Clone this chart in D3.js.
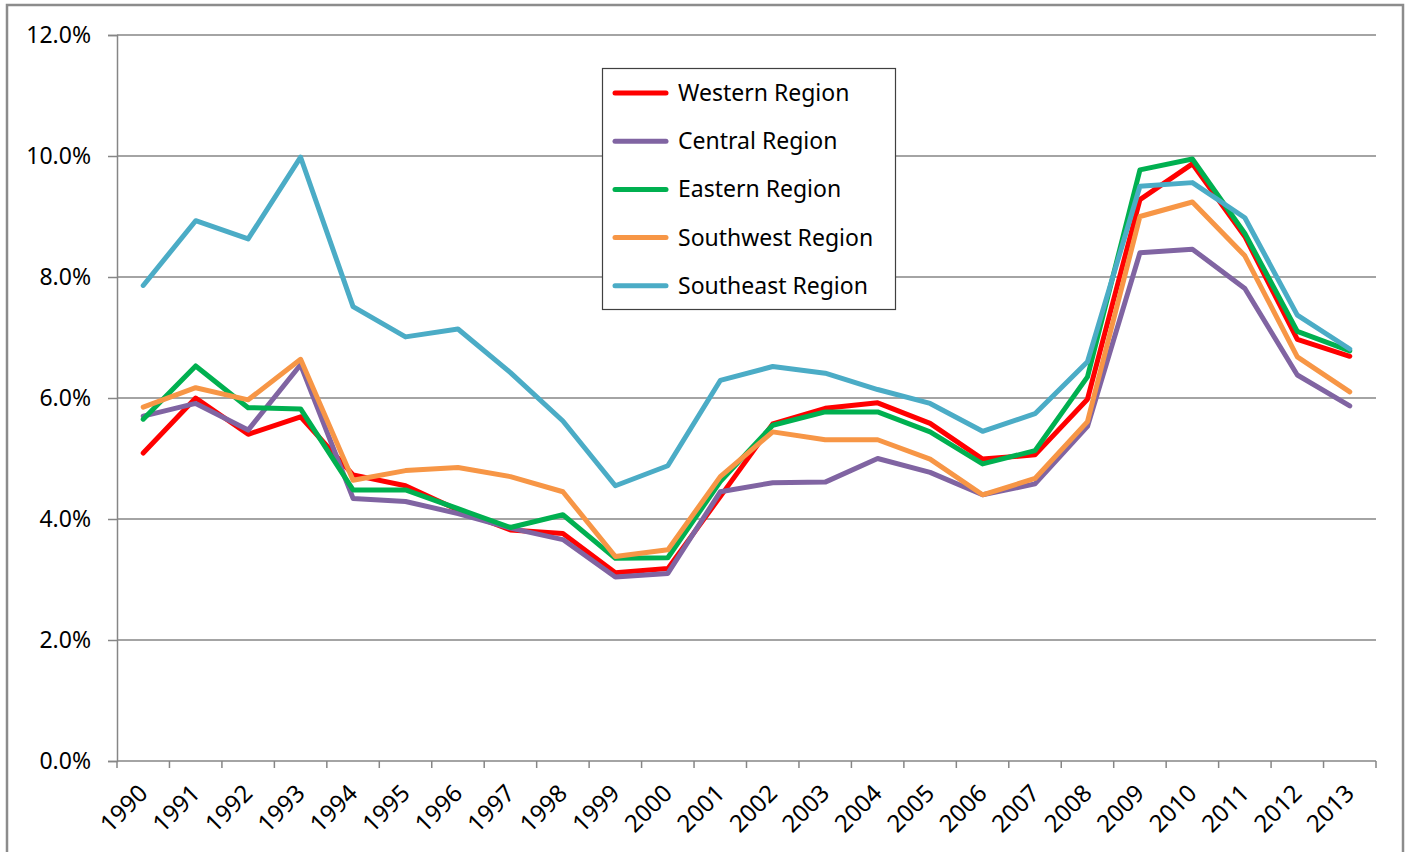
<!DOCTYPE html>
<html>
<head>
<meta charset="utf-8">
<script src="https://cdn.jsdelivr.net/npm/d3@7"></script>
<style>
  html, body { margin: 0; padding: 0; background: #ffffff; }
  svg { display: block; font-family: "Noto Sans", "Open Sans", sans-serif; }
</style>
</head>
<body>
<svg id="chart" width="1410" height="852"></svg>
<script>
// Annual unemployment rate (%) by region
const years = ["1990","1991","1992","1993","1994","1995","1996","1997","1998","1999","2000","2001",
               "2002","2003","2004","2005","2006","2007","2008","2009","2010","2011","2012","2013"];

const western   = [5.09, 6.00, 5.40, 5.69, 4.73, 4.55, 4.15, 3.82, 3.76, 3.11, 3.18, 4.37,
                   5.57, 5.83, 5.92, 5.58, 4.99, 5.06, 5.98, 9.28, 9.87, 8.67, 6.97, 6.69];
const central   = [5.70, 5.91, 5.47, 6.55, 4.34, 4.29, 4.09, 3.85, 3.66, 3.04, 3.10, 4.45,
                   4.60, 4.61, 5.00, 4.77, 4.40, 4.58, 5.53, 8.40, 8.46, 7.81, 6.38, 5.87];
const eastern   = [5.65, 6.53, 5.84, 5.82, 4.48, 4.48, 4.17, 3.86, 4.07, 3.35, 3.36, 4.62,
                   5.55, 5.77, 5.77, 5.44, 4.91, 5.13, 6.35, 9.77, 9.95, 8.72, 7.10, 6.78];
const southwest = [5.85, 6.17, 5.97, 6.64, 4.64, 4.80, 4.85, 4.70, 4.45, 3.38, 3.49, 4.70,
                   5.44, 5.31, 5.31, 4.99, 4.40, 4.67, 5.61, 9.00, 9.24, 8.35, 6.68, 6.10];
const southeast = [7.86, 8.93, 8.63, 9.98, 7.51, 7.01, 7.14, 6.42, 5.62, 4.55, 4.88, 6.29,
                   6.52, 6.41, 6.14, 5.91, 5.45, 5.74, 6.60, 9.50, 9.56, 8.98, 7.37, 6.81];

const seriesNames  = ["Western Region", "Central Region", "Eastern Region", "Southwest Region", "Southeast Region"];
const seriesColors = ["#ff0000", "#8064a2", "#00b050", "#f79646", "#4bacc6"];
const yTicks = [0, 2, 4, 6, 8, 10, 12];

const series = [western, central, eastern, southwest, southeast].map((values, i) => ({
  name: seriesNames[i], color: seriesColors[i], values
}));

const svg = d3.select("#chart");
const plot = { left: 117, right: 1376, top: 35, bottom: 761 };

// outer chart frame
svg.append("rect")
  .attr("x", 7).attr("y", 5).attr("width", 1396).attr("height", 860)
  .attr("fill", "#fff").attr("stroke", "#8c8c8c").attr("stroke-width", 2.5);

const x = d3.scaleBand().domain(years).range([plot.left, plot.right]).padding(0);
const y = d3.scaleLinear().domain([0, 12]).range([plot.bottom, plot.top]);

// horizontal gridlines
svg.append("g")
  .selectAll("line").data(yTicks.filter(t => t > 0)).join("line")
  .attr("x1", plot.left).attr("x2", plot.right)
  .attr("y1", d => y(d)).attr("y2", d => y(d))
  .attr("stroke", "#868686").attr("stroke-width", 1.5);

// y axis
const yAxis = d3.axisLeft(y).tickValues(yTicks).tickSize(9).tickPadding(17)
  .tickFormat(d => d.toFixed(1) + "%");
const gy = svg.append("g").attr("transform", `translate(${plot.left},0)`).call(yAxis);
gy.select(".domain").attr("stroke", "#868686").attr("stroke-width", 1.5);
gy.selectAll(".tick line").attr("stroke", "#868686").attr("stroke-width", 1.5);
gy.selectAll(".tick text").attr("font-size", 23).attr("fill", "#000")
  .attr("font-family", "'Noto Sans', sans-serif");

// x axis: ticks sit on category boundaries
const gx = svg.append("g").attr("transform", `translate(0,${plot.bottom})`);
gx.append("line").attr("x1", plot.left).attr("x2", plot.right).attr("y1", 0).attr("y2", 0)
  .attr("stroke", "#868686").attr("stroke-width", 1.5);
const boundaries = years.map(d => x(d)).concat([plot.right]);
gx.selectAll("line.tick").data(boundaries).join("line").attr("class", "tick")
  .attr("x1", d => d).attr("x2", d => d).attr("y1", 0).attr("y2", 7)
  .attr("stroke", "#868686").attr("stroke-width", 1.5);
gx.selectAll("text").data(years).join("text")
  .attr("transform", d => `translate(${x(d) + x.bandwidth() / 2 - 6},${22}) rotate(-45)`)
  .attr("text-anchor", "end").attr("dy", "0.7em")
  .attr("font-size", 24).attr("fill", "#000")
  .text(d => d);

// series lines
const line = d3.line()
  .x((d, i) => x(years[i]) + x.bandwidth() / 2)
  .y(d => y(d));

svg.append("g").selectAll("path").data(series).join("path")
  .attr("d", d => line(d.values))
  .attr("fill", "none")
  .attr("stroke", d => d.color)
  .attr("stroke-width", 5)
  .attr("stroke-linejoin", "round")
  .attr("stroke-linecap", "round");

// legend
const lg = svg.append("g");
lg.append("rect").attr("x", 602.5).attr("y", 68.5).attr("width", 293).attr("height", 241)
  .attr("fill", "#fff").attr("stroke", "#404040").attr("stroke-width", 1.2);
const items = lg.selectAll("g.item").data(series).join("g").attr("class", "item")
  .attr("transform", (d, i) => `translate(0,${93 + i * 48.2})`);
items.append("line").attr("x1", 615).attr("x2", 666).attr("y1", 0).attr("y2", 0)
  .attr("stroke", d => d.color).attr("stroke-width", 5).attr("stroke-linecap", "round");
items.append("text").attr("x", 678).attr("y", 0).attr("dy", "0.35em")
  .attr("font-size", 23).attr("fill", "#000")
  .text(d => d.name);
</script>
</body>
</html>
